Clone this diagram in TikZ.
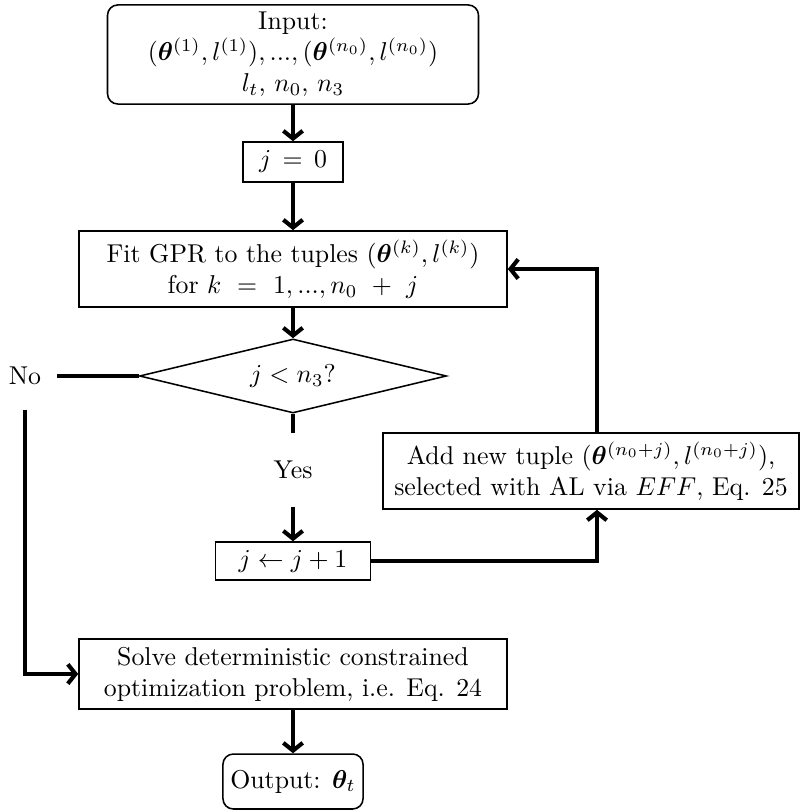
\documentclass[tikz,border=0pt]{standalone}
\usepackage{amsmath}
\usepackage{bm}
\usetikzlibrary{arrows.meta,shapes.geometric}

\tikzset{
  box/.style={draw,line width=0.6pt,align=center,inner sep=2pt},
  flow/.style={-{Straight Barb[length=3pt,width=7.5pt]},line width=1.6pt},
  thickline/.style={line width=1.6pt}
}

\begin{document}
\begin{tikzpicture}[x=1.3623cm,y=-1.3623cm]

\useasboundingbox (0,0) rectangle (8.01,8.10);

% nodes
\node[box,rounded corners=4pt,minimum width=143.8pt,minimum height=38.4pt] (input) at (2.93,0.545)
  {Input:\\ $(\bm{\theta}^{(1)},l^{(1)}),...,(\bm{\theta}^{(n_0)},l^{(n_0)})$\\ $l_t$, $n_0$, $n_3$};
\node[box,minimum width=38.8pt,minimum height=15.5pt] (jzero) at (2.93,1.62) {$j\,=\,0$};
\node[box,minimum width=165.9pt,minimum height=29.5pt] (fit) at (2.93,2.69)
  {Fit GPR to the tuples $(\bm{\theta}^{(k)},l^{(k)})$\\ for $k\ =\ 1,...,n_0\ +\ j$};
\node[diamond,draw,line width=0.6pt,aspect=4.15,inner sep=0pt,minimum width=119pt,minimum height=28.7pt] (check) at (2.93,3.76) {$j<n_3$?};
\node[inner xsep=6pt,inner ysep=9.4pt] (no) at (0.25,3.76) {No};
\node[inner xsep=2pt,inner ysep=10.5pt] (yes) at (2.93,4.70) {Yes};
\node[box,minimum width=60.1pt,minimum height=14.7pt] (jinc) at (2.93,5.61) {$j\leftarrow j+1$};
\node[box,minimum width=161.2pt,minimum height=29.5pt] (add) at (5.91,4.71)
  {Add new tuple $(\bm{\theta}^{(n_0+j)},l^{(n_0+j)})$,\\ selected with AL via $EFF$, Eq. 25};
\node[box,minimum width=165.9pt,minimum height=27.1pt] (solve) at (2.93,6.74)
  {Solve deterministic constrained\\ optimization problem, i.e. Eq. 24};
\node[box,rounded corners=4pt,minimum width=54.3pt,minimum height=21.3pt] (output) at (2.93,7.815) {Output: $\bm{\theta}_t$};
\coordinate (loop) at (5.97,0);

% connectors
\draw[flow] (input) -- (jzero);
\draw[flow] (jzero) -- (fit);
\draw[flow] (fit) -- (check);
\draw[thickline] (check.west) -- (no.east);
\draw[flow] (no.south) |- (solve.west);
\draw[thickline] (check.south) -- (yes.north);
\draw[flow] (yes.south) -- (jinc.north);
\draw[flow] (jinc.east) -| (loop |- add.south);
\draw[flow] (loop |- add.north) |- (fit.east);
\draw[flow] (solve) -- (output);

\end{tikzpicture}
\end{document}
